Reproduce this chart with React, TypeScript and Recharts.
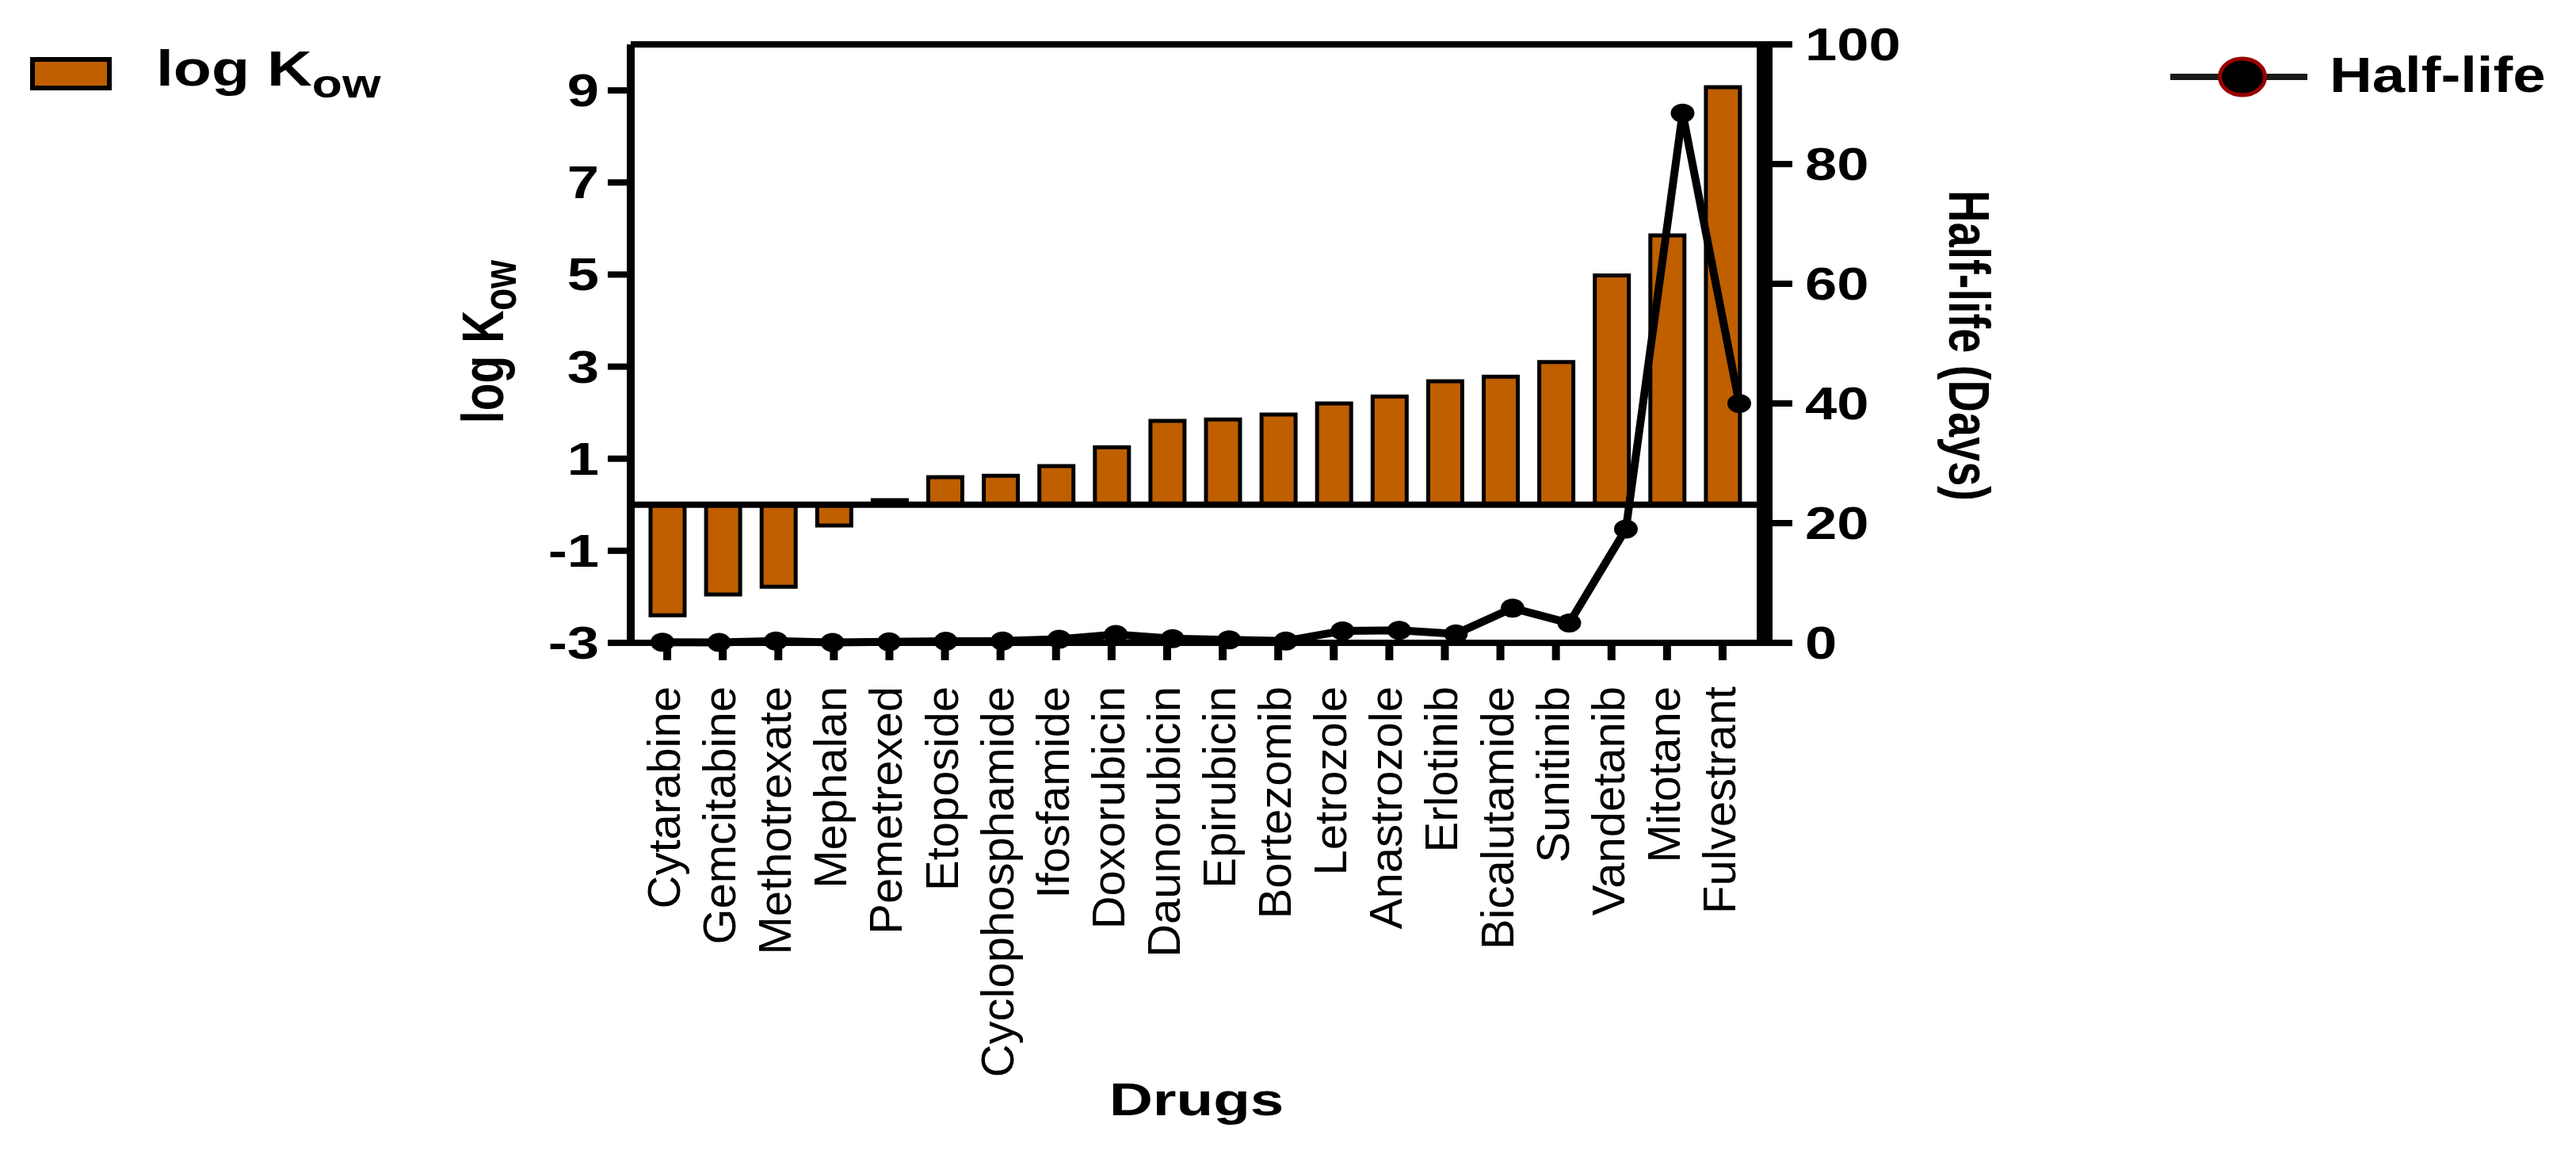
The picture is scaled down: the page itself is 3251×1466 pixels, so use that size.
import {
  ComposedChart,
  Bar,
  Line,
  XAxis,
  YAxis,
  ReferenceLine,
  Legend,
} from "recharts";

const drugs = [
  "Cytarabine",
  "Gemcitabine",
  "Methotrexate",
  "Mephalan",
  "Pemetrexed",
  "Etoposide",
  "Cyclophosphamide",
  "Ifosfamide",
  "Doxorubicin",
  "Daunorubicin",
  "Epirubicin",
  "Bortezomib",
  "Letrozole",
  "Anastrozole",
  "Erlotinib",
  "Bicalutamide",
  "Sunitinib",
  "Vandetanib",
  "Mitotane",
  "Fulvestrant",
];

const logKow = [
  -2.4, -1.95, -1.78, -0.45, 0.1, 0.6, 0.63, 0.84, 1.25, 1.82, 1.85, 1.96, 2.2,
  2.35, 2.68, 2.78, 3.1, 4.98, 5.85, 9.07,
];

const halfLife = [
  0.1, 0.05, 0.3, 0.06, 0.15, 0.25, 0.3, 0.6, 1.4, 0.7, 0.5, 0.3, 2.0, 2.1, 1.5,
  5.8, 3.3, 19, 88.5, 40,
];

const leftTicks = [-3, -1, 1, 3, 5, 7, 9];
const rightTicks = [0, 20, 40, 60, 80, 100];

const BAR = "#bf5f00";
const FONT = "'Liberation Sans', Arial, Helvetica, sans-serif";

const W = 3251;
const H = 1466;
// plot box
const PL = 796;
const PR = 2227;
const PT = 56;
const PB = 811;

const rows = drugs.map((drug, i) => ({
  drug,
  idx: i,
  logKow: logKow[i],
  halfLife: halfLife[i],
}));

function DrugTick({ x, y, payload }: any) {
  return (
    <text
      x={x}
      y={y}
      dy={16}
      transform={`rotate(-90, ${x}, ${y})`}
      textAnchor="end"
      fontFamily={FONT}
      fontSize={58}
      fill="#000"
    >
      {payload.value}
    </text>
  );
}

function LeftTick({ x, y, payload }: any) {
  return (
    <g transform={`translate(${x},${y}) scale(1.27,1)`}>
      <text x={0} y={20} textAnchor="end" fontFamily={FONT} fontWeight="bold" fontSize={57} fill="#000">
        {payload.value}
      </text>
    </g>
  );
}

function RightTick({ x, y, payload }: any) {
  return (
    <g transform={`translate(${x},${y}) scale(1.27,1)`}>
      <text x={0} y={20} textAnchor="start" fontFamily={FONT} fontWeight="bold" fontSize={57} fill="#000">
        {payload.value}
      </text>
    </g>
  );
}

function LeftTitle() {
  return (
    <g transform="translate(635,431) scale(1.3,1) rotate(-90)">
      <text x={0} y={0} textAnchor="middle" fontFamily={FONT} fontWeight="bold" fontSize={57} fill="#000">
        log K
        <tspan fontSize={46} dy={12}>
          ow
        </tspan>
      </text>
    </g>
  );
}

function RightTitle() {
  return (
    <g transform="translate(2460,436) scale(1.3,1) rotate(90)">
      <text x={0} y={0} textAnchor="middle" fontFamily={FONT} fontWeight="bold" fontSize={56} fill="#000">
        Half-life (Days)
      </text>
    </g>
  );
}

function XTitle() {
  return (
    <g transform="translate(1510,1407) scale(1.34,1)">
      <text x={0} y={0} textAnchor="middle" fontFamily={FONT} fontWeight="bold" fontSize={57} fill="#000">
        Drugs
      </text>
    </g>
  );
}

function HalfDot({ cx, cy, index }: any) {
  if (cx == null || cy == null) return null;
  return <ellipse key={`d${index}`} cx={cx} cy={cy} rx={15} ry={12} fill="#000" />;
}

function LegendBox() {
  return (
    <svg width={W} height={200} style={{ display: "block" }}>
      <rect x={41} y={75} width={97} height={36} fill={BAR} stroke="#000" strokeWidth={6} />
      <g transform="translate(197,108) scale(1.25,1)">
        <text x={0} y={0} fontFamily={FONT} fontWeight="bold" fontSize={63} fill="#000">
          log K
          <tspan fontSize={50} dy={15}>
            ow
          </tspan>
        </text>
      </g>
      <line x1={2739} x2={2912} y1={97} y2={97} stroke="#1a1a1a" strokeWidth={8} />
      <ellipse cx={2830} cy={97} rx={28.5} ry={23} fill="#000" stroke="#990000" strokeWidth={5} />
      <g transform="translate(2940,116) scale(1.18,1)">
        <text x={0} y={0} fontFamily={FONT} fontWeight="bold" fontSize={63} fill="#000">
          Half-life
        </text>
      </g>
    </svg>
  );
}

export default function App() {
  const yAxisW = 200;
  const xAxisH = 100;
  return (
    <div style={{ position: "absolute", left: 0, top: 0, width: W, height: H, background: "#fff" }}>
      <ComposedChart
        width={W}
        height={H}
        data={rows}
        margin={{
          top: PT,
          left: PL - yAxisW,
          right: W - PR - yAxisW,
          bottom: H - PB - xAxisH,
        }}
      >
        <XAxis
          xAxisId="cat"
          dataKey="drug"
          type="category"
          interval={0}
          height={xAxisH}
          padding={{ left: 11, right: 18 }}
          axisLine={{ stroke: "#000", strokeWidth: 8 }}
          tickLine={{ stroke: "#000", strokeWidth: 10 }}
          tickSize={22}
          tickMargin={33}
          tick={<DrugTick />}
          label={<XTitle />}
        />
        <XAxis
          xAxisId="num"
          dataKey="idx"
          type="number"
          domain={[0, 19]}
          padding={{ left: 40, right: 32 }}
          hide
        />
        <YAxis
          yAxisId="left"
          orientation="left"
          width={yAxisW}
          domain={[-3, 10]}
          ticks={leftTicks}
          interval={0}
          axisLine={{ stroke: "#000", strokeWidth: 10 }}
          tickLine={{ stroke: "#000", strokeWidth: 8 }}
          tickSize={29}
          tickMargin={11}
          tick={<LeftTick />}
          label={<LeftTitle />}
        />
        <YAxis
          yAxisId="right"
          orientation="right"
          width={yAxisW}
          domain={[0, 100]}
          ticks={rightTicks}
          interval={0}
          axisLine={{ stroke: "#000", strokeWidth: 20 }}
          tickLine={{ stroke: "#000", strokeWidth: 8 }}
          tickSize={35}
          tickMargin={16}
          tick={<RightTick />}
          label={<RightTitle />}
        />
        <Legend
          layout="vertical"
          align="center"
          verticalAlign="middle"
          content={<LegendBox />}
          wrapperStyle={{ left: 0, top: 0, width: W, height: 200 }}
        />
        <Bar
          xAxisId="cat"
          yAxisId="left"
          dataKey="logKow"
          name="log Kow"
          fill={BAR}
          stroke="#000"
          strokeWidth={5}
          barSize={43}
          isAnimationActive={false}
        />
        <ReferenceLine xAxisId="cat" yAxisId="left" y={0} stroke="#000" strokeWidth={8} />
        <ReferenceLine xAxisId="cat" yAxisId="left" y={10} stroke="#000" strokeWidth={8} />
        <Line
          xAxisId="num"
          yAxisId="right"
          dataKey="halfLife"
          name="Half-life"
          type="linear"
          stroke="#000"
          strokeWidth={10}
          dot={<HalfDot />}
          activeDot={false}
          isAnimationActive={false}
        />
      </ComposedChart>
    </div>
  );
}
